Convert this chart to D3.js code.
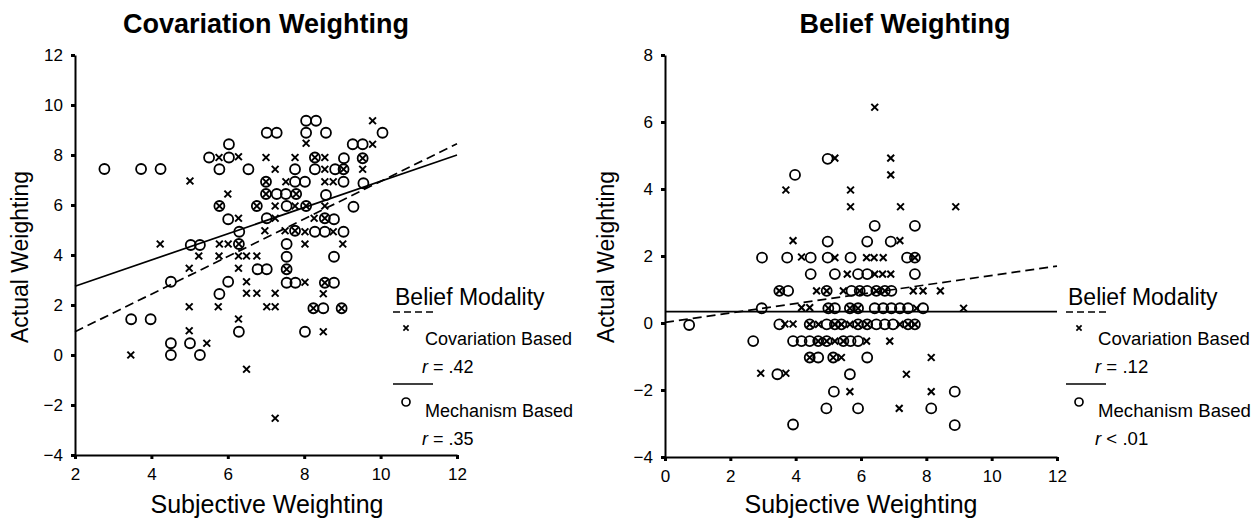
<!DOCTYPE html>
<html>
<head>
<meta charset="utf-8">
<script src="https://cdn.jsdelivr.net/npm/d3@7/dist/d3.min.js"></script>
<style>
  body { margin: 0; background: #fff; }
  svg { display: block; font-family: "Liberation Sans", Arial, sans-serif; }
  .axis path, .axis line { stroke: #000; }
  .axis text { font-size: 17px; fill: #000; }
</style>
</head>
<body>
<svg id="chart" width="1260" height="523"></svg>
<script>
// values  [subjective, actual]
var covLeft = [
  [5.77,7.9],[6.28,7.93],[5.01,6.96],[6.0,6.44],[5.78,5.96],[6.76,5.96],[6.28,5.47],[4.23,4.44],[5.78,4.44],[6.01,4.44],
  [6.29,4.44],[5.24,3.96],[5.77,3.96],[6.28,3.96],[6.49,3.96],[6.76,3.96],[4.99,3.47],[6.28,3.47],[6.49,2.93],[6.49,2.47],
  [6.76,2.47],[3.46,0],[5.45,0.47],[4.99,1.93],[4.99,0.97],[5.75,1.93],[6.28,1.44],[6.49,-0.57],[7.02,1.93],[7.24,1.93],
  [7.24,2.47],[7.24,-2.53],[9.79,9.37],[8.05,8.47],[9.79,8.43],[7.0,7.9],[7.76,7.9],[8.28,7.9],[8.54,7.9],[9.53,7.87],
  [7.24,7.43],[8.54,7.43],[9.03,7.43],[9.53,7.43],[7.0,6.93],[7.52,6.93],[8.54,6.93],[8.76,6.93],[7.0,6.44],[7.79,6.44],
  [7.24,5.96],[7.76,5.96],[8.05,5.96],[8.54,5.96],[7.24,5.47],[8.26,5.47],[8.54,5.47],[6.97,4.97],[7.5,4.97],[7.76,4.97],
  [8.02,4.93],[8.76,4.93],[8.02,4.44],[9.01,4.44],[7.54,3.43],[8.02,2.91],[8.54,2.89],[8.5,2.45],[8.24,1.87],[8.98,1.87],
  [8.5,0.93]
];
var mechLeft = [
  [2.77,7.44],[3.73,7.44],[4.24,7.44],[5.51,7.9],[6.03,7.9],[6.03,8.43],[5.78,7.43],[6.54,7.43],[5.78,5.96],[6.76,5.96],
  [6.01,5.43],[6.3,4.93],[5.03,4.4],[5.27,4.4],[6.29,4.44],[6.78,3.43],[4.51,2.93],[6.01,2.93],[5.78,2.44],[3.47,1.43],
  [3.98,1.43],[4.51,0.47],[4.51,0],[5.01,0.47],[5.27,0],[6.29,0.93],[7.54,2.89],[7.77,2.89],[8.02,0.93],[8.05,9.37],
  [8.31,9.37],[7.02,8.89],[7.28,8.89],[8.05,8.89],[8.57,8.89],[10.05,8.89],[9.27,8.43],[9.53,8.43],[8.28,7.9],[9.04,7.87],
  [9.53,7.87],[7.76,7.43],[8.28,7.43],[8.81,7.43],[9.03,7.43],[7.0,6.93],[7.76,6.93],[8.02,6.93],[9.03,6.93],[9.55,6.87],
  [7.0,6.44],[7.28,6.44],[7.52,6.44],[7.79,6.44],[8.57,6.4],[7.54,5.96],[8.05,5.96],[9.29,5.93],[7.02,5.47],[8.54,5.47],
  [8.78,5.43],[7.76,4.97],[8.28,4.93],[8.54,4.93],[9.03,4.93],[7.54,4.44],[7.54,3.93],[8.78,3.93],[7.02,3.43],[7.54,3.43],
  [8.54,2.89],[8.78,2.89],[8.24,1.87],[8.5,1.87],[8.98,1.87]
];
var covRight = [
  [3.7,3.97],[3.92,2.46],[4.18,1.97],[6.42,6.44],[5.2,4.92],[6.91,4.92],[6.91,4.42],[5.68,3.97],[5.68,3.47],[7.21,3.47],
  [8.9,3.47],[7.19,2.46],[5.2,1.95],[6.17,1.95],[6.4,1.95],[6.68,1.95],[7.65,1.95],[5.58,1.46],[6.42,1.46],[6.66,1.46],
  [6.91,1.46],[3.5,0.96],[4.64,0.96],[4.95,0.96],[5.46,0.96],[5.96,0.96],[6.47,0.96],[6.73,0.96],[7.6,0.96],[7.9,0.96],
  [8.43,0.96],[4.18,0.46],[4.43,0.46],[5.0,0.44],[5.66,0.44],[5.91,0.44],[7.7,0.44],[9.14,0.44],[3.67,-0.03],[3.92,-0.03],
  [4.43,-0.04],[4.7,-0.04],[5.2,-0.04],[5.4,-0.04],[5.66,-0.04],[5.91,-0.04],[6.19,-0.04],[7.19,-0.04],[7.44,-0.04],[7.65,-0.04],
  [4.69,-0.54],[4.95,-0.54],[5.2,-0.54],[5.46,-0.54],[6.17,-0.54],[6.88,-0.54],[4.43,-1.03],[5.15,-1.03],[5.4,-1.03],[8.15,-1.03],
  [2.93,-1.5],[3.7,-1.5],[7.39,-1.53],[5.66,-2.05],[8.15,-2.05],[7.17,-2.55]
];
var mechRight = [
  [3.98,4.42],[4.98,4.9],[6.42,2.9],[7.65,2.9],[4.98,2.43],[6.19,2.43],[6.91,2.43],[2.97,1.95],[3.74,1.95],[4.46,1.95],
  [4.98,1.95],[5.68,1.95],[7.41,1.95],[7.65,1.95],[4.46,1.46],[5.2,1.46],[5.91,1.46],[6.19,1.46],[7.65,1.46],[3.5,0.96],
  [3.77,0.96],[4.95,0.96],[5.71,0.96],[5.96,0.96],[6.19,0.96],[6.47,0.96],[6.73,0.96],[6.93,0.96],[2.96,0.44],[5.0,0.44],
  [5.2,0.44],[5.66,0.44],[5.91,0.44],[6.42,0.44],[6.68,0.44],[6.93,0.44],[7.19,0.44],[7.44,0.44],[7.9,0.44],[0.74,-0.06],
  [3.5,-0.04],[4.43,-0.04],[4.95,-0.04],[5.2,-0.04],[5.4,-0.04],[5.91,-0.04],[6.19,-0.04],[6.47,-0.04],[6.73,-0.04],[6.98,-0.04],
  [7.44,-0.04],[7.65,-0.04],[2.7,-0.54],[3.92,-0.54],[4.18,-0.54],[4.43,-0.54],[4.69,-0.54],[4.95,-0.54],[5.46,-0.54],[5.68,-0.54],
  [5.91,-0.54],[4.43,-1.03],[4.69,-1.03],[5.15,-1.03],[6.19,-1.03],[3.44,-1.53],[5.66,-1.53],[5.17,-2.05],[8.87,-2.05],[4.94,-2.55],
  [5.91,-2.55],[8.15,-2.55],[3.92,-3.03],[8.87,-3.05]
];

// regression lines, end points in data units
var covFitLeft = [[2, 0.93], [12, 8.45]];
var mechFitLeft = [[2, 2.75], [12, 8.0]];
var covFitRight = [[0, 0.02], [12, 1.7]];
var mechFitRight = [[0, 0.34], [12, 0.34]];

var xTicksLeft = [2, 4, 6, 8, 10, 12];
var yTicksLeft = [-4, -2, 0, 2, 4, 6, 8, 10, 12];
var xTicksRight = [0, 2, 4, 6, 8, 10, 12];
var yTicksRight = [-4, -2, 0, 2, 4, 6, 8];

var titles = ["Covariation Weighting", "Belief Weighting"];
var xLabel = "Subjective Weighting";
var yLabel = "Actual Weighting";
var legendTitle = "Belief Modality";
var legendItems = ["Covariation Based", "Mechanism Based"];
var rLeft = ["= .42", "= .35"];
var rRight = ["= .12", "< .01"];

var svg = d3.select("#chart");

function cross(size) {
  return "M" + (-size) + "," + (-size) + "L" + size + "," + size + "M" + (-size) + "," + size + "L" + size + "," + (-size);
}

function panel(opt) {
  var x = d3.scaleLinear().domain(opt.xDom).range(opt.xRange);
  var y = d3.scaleLinear().domain(opt.yDom).range(opt.yRange);
  var g = svg.append("g");

  // axes
  var ax = g.append("g").attr("class", "axis")
    .attr("transform", "translate(0," + opt.yRange[0] + ")")
    .call(d3.axisBottom(x).tickValues(opt.xTicks).tickSize(4).tickSizeOuter(0).tickPadding(9));
  var ay = g.append("g").attr("class", "axis")
    .attr("transform", "translate(" + opt.xRange[0] + ",0)")
    .call(d3.axisLeft(y).tickValues(opt.yTicks).tickSize(4).tickSizeOuter(0).tickPadding(8));
  [ax, ay].forEach(function(a) {
    a.select(".domain").attr("stroke-width", 2);
    a.selectAll(".tick line").attr("stroke-width", 3);
    a.selectAll(".tick text").attr("font-family", "Liberation Sans, Arial, sans-serif");
  });

  // fit lines
  var line = d3.line().x(function(d) { return x(d[0]); }).y(function(d) { return y(d[1]); });
  g.append("path").attr("d", line(opt.covFit))
    .attr("fill", "none").attr("stroke", "#000").attr("stroke-width", 1.7).attr("stroke-dasharray", "9,5");
  g.append("path").attr("d", line(opt.mechFit))
    .attr("fill", "none").attr("stroke", "#000").attr("stroke-width", 1.7);

  // points
  g.selectAll(".mech").data(opt.mech).enter().append("circle")
    .attr("class", "mech")
    .attr("cx", function(d) { return x(d[0]); })
    .attr("cy", function(d) { return y(d[1]); })
    .attr("r", 5)
    .attr("fill", "none").attr("stroke", "#000").attr("stroke-width", 1.8);
  g.selectAll(".cov").data(opt.cov).enter().append("path")
    .attr("class", "cov")
    .attr("transform", function(d) { return "translate(" + x(d[0]) + "," + y(d[1]) + ")"; })
    .attr("d", cross(3.4))
    .attr("fill", "none").attr("stroke", "#000").attr("stroke-width", 2);

  // title + axis labels
  g.append("text").text(opt.title)
    .attr("x", opt.titleX).attr("y", 33).attr("text-anchor", "middle")
    .attr("font-size", 27).attr("font-weight", "bold");
  g.append("text").text(xLabel)
    .attr("x", opt.xLabelX).attr("y", 513).attr("text-anchor", "middle").attr("font-size", 25);
  g.append("text").text(yLabel)
    .attr("transform", "translate(" + opt.yLabelX + "," + 257 + ") rotate(-90)")
    .attr("text-anchor", "middle").attr("font-size", 23);

  // legend
  var lg = g.append("g").attr("transform", "translate(" + opt.legX + ",0)");
  lg.append("text").text(legendTitle).attr("x", 2).attr("y", 305).attr("font-size", 23);
  lg.append("line").attr("x1", 0).attr("x2", 40).attr("y1", 312).attr("y2", 312)
    .attr("stroke", "#000").attr("stroke-width", 1.7).attr("stroke-dasharray", "7,4");
  lg.append("path").attr("transform", "translate(13,328)").attr("d", cross(2.6))
    .attr("stroke", "#000").attr("stroke-width", 1.7);
  lg.append("text").text(legendItems[0]).attr("x", 32).attr("y", 345).attr("font-size", opt.legFont);
  var t1 = lg.append("text").attr("x", 29).attr("y", 373).attr("font-size", opt.legFont);
  t1.append("tspan").attr("font-style", "italic").text("r");
  t1.append("tspan").text(" " + opt.r[0]);
  lg.append("line").attr("x1", 0).attr("x2", 40).attr("y1", 384).attr("y2", 384)
    .attr("stroke", "#000").attr("stroke-width", 1.7);
  lg.append("circle").attr("cx", 13).attr("cy", 402).attr("r", 4)
    .attr("fill", "none").attr("stroke", "#000").attr("stroke-width", 1.7);
  lg.append("text").text(legendItems[1]).attr("x", 32).attr("y", 417).attr("font-size", opt.legFont);
  var t2 = lg.append("text").attr("x", 29).attr("y", 445).attr("font-size", opt.legFont);
  t2.append("tspan").attr("font-style", "italic").text("r");
  t2.append("tspan").text(" " + opt.r[1]);
}

panel({
  xDom: [2, 12], xRange: [75, 457], yDom: [-4, 12], yRange: [455, 55],
  xTicks: xTicksLeft, yTicks: yTicksLeft,
  cov: covLeft, mech: mechLeft, covFit: covFitLeft, mechFit: mechFitLeft,
  title: titles[0], titleX: 266, xLabelX: 267, yLabelX: 28,
  legX: 393, legFont: 18, r: rLeft
});

panel({
  xDom: [0, 12], xRange: [665, 1057], yDom: [-4, 8], yRange: [457, 55],
  xTicks: xTicksRight, yTicks: yTicksRight,
  cov: covRight, mech: mechRight, covFit: covFitRight, mechFit: mechFitRight,
  title: titles[1], titleX: 905, xLabelX: 861, yLabelX: 614,
  legX: 1066, legFont: 18.6, r: rRight
});
</script>
</body>
</html>
